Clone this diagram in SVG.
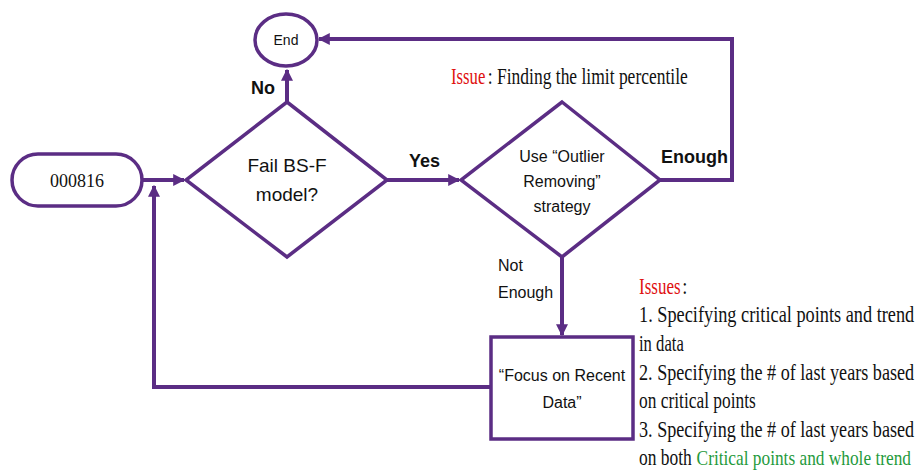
<svg xmlns="http://www.w3.org/2000/svg" width="918" height="474" viewBox="0 0 918 474">
<style>
.shape{fill:#fff;stroke:#5b2d84;stroke-width:3.5}
.con{fill:none;stroke:#5b2d84;stroke-width:4}
.sans{font-family:"Liberation Sans",Arial,sans-serif;fill:#111}
.serif{font-family:"Liberation Serif","Times New Roman",serif;fill:#111}
.note{font-family:"Liberation Serif","Times New Roman",serif;fill:#111;font-size:23px}
.lbl{font-family:"Liberation Sans",Arial,sans-serif;font-weight:bold;font-size:18px;fill:#111}
.red{fill:#e01010}
.green{fill:#1f9a3c;font-size:21.5px}
</style>
<defs>
<marker id="ah" viewBox="0 0 10 10" refX="9" refY="5" markerWidth="3" markerHeight="3" orient="auto" markerUnits="strokeWidth">
<path d="M0,0 L10,5 L0,10 z" fill="#5b2d84"/>
</marker>
</defs>
<g id="connectors">
<path class="con" d="M142,180 L184,180" marker-end="url(#ah)"/>
<path class="con" d="M287,102 L287,70" marker-end="url(#ah)"/>
<path class="con" d="M387,180 L459,180" marker-end="url(#ah)"/>
<path class="con" d="M660,180 L732,180 L732,39 L319,39" marker-end="url(#ah)"/>
<path class="con" d="M562,257 L562,335" marker-end="url(#ah)"/>
<path class="con" d="M491,387 L154,387 L154,186" marker-end="url(#ah)"/>
</g>
<g id="start">
<rect class="shape" x="12" y="154" width="130" height="52" rx="26"/>
<text class="serif" x="77" y="187" font-size="18" text-anchor="middle">000816</text>
</g>
<g id="end">
<ellipse class="shape" cx="286" cy="40" rx="31" ry="26"/>
<text class="sans" x="286" y="45" font-size="14" text-anchor="middle">End</text>
</g>
<g id="decision1">
<polygon class="shape" points="287,102 387,180 287,257 186,180"/>
<text class="sans" x="287" y="172" font-size="19" text-anchor="middle">Fail BS-F</text>
<text class="sans" x="287" y="201" font-size="19" text-anchor="middle">model?</text>
</g>
<g id="decision2">
<polygon class="shape" points="562,102 660,180 562,257 461,180"/>
<text class="sans" x="562" y="162" font-size="16" text-anchor="middle">Use “Outlier</text>
<text class="sans" x="562" y="187" font-size="16" text-anchor="middle">Removing”</text>
<text class="sans" x="562" y="212" font-size="16" text-anchor="middle">strategy</text>
</g>
<g id="focus">
<rect class="shape" x="491" y="337" width="142" height="102"/>
<text class="sans" x="562" y="381" font-size="16" text-anchor="middle">“Focus on Recent</text>
<text class="sans" x="562" y="408" font-size="16" text-anchor="middle">Data”</text>
</g>
<g id="labels">
<text class="lbl" x="251" y="94">No</text>
<text class="lbl" x="409" y="167">Yes</text>
<text class="lbl" x="661" y="163">Enough</text>
<text class="sans" x="498" y="271" font-size="16">Not</text>
<text class="sans" x="498" y="298" font-size="16">Enough</text>
</g>
<g id="issue-top" transform="translate(451,84) scale(0.8,1)">
<text class="note red" x="0" y="0" textLength="43" lengthAdjust="spacingAndGlyphs">Issue</text>
<text class="note" x="46" y="0" textLength="250" lengthAdjust="spacingAndGlyphs">: Finding the limit percentile</text>
</g>
<g id="issues" transform="translate(639,0) scale(0.8,1)">
<text class="note red" x="0" y="294" textLength="52" lengthAdjust="spacingAndGlyphs">Issues</text>
<text class="note" x="54" y="294">:</text>
<text class="note" x="0" y="322" textLength="344" lengthAdjust="spacingAndGlyphs">1. Specifying critical points and trend</text>
<text class="note" x="0" y="351" textLength="56" lengthAdjust="spacingAndGlyphs">in data</text>
<text class="note" x="0" y="380" textLength="344" lengthAdjust="spacingAndGlyphs">2. Specifying the # of last years based</text>
<text class="note" x="0" y="408" textLength="146" lengthAdjust="spacingAndGlyphs">on critical  points</text>
<text class="note" x="0" y="437" textLength="344" lengthAdjust="spacingAndGlyphs">3. Specifying the # of last years based</text>
<text class="note" x="0" y="465" textLength="66" lengthAdjust="spacingAndGlyphs">on both</text>
<text class="note green" x="72" y="465" textLength="268" lengthAdjust="spacingAndGlyphs">Critical points and whole trend</text>
</g>
</svg>
